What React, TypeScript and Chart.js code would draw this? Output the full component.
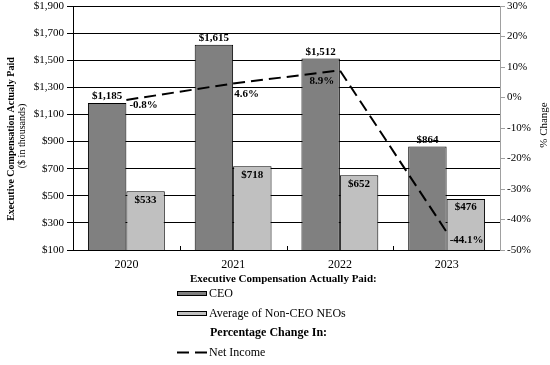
import React, { useEffect, useRef } from 'react';
import { Chart, registerables } from 'chart.js';

Chart.register(...registerables);

const years = ['2020', '2021', '2022', '2023'];
const ceoPaid = [1185, 1615, 1512, 864];
const neoPaid = [533, 718, 652, 476];
const netIncomeChange = [-0.8, 4.6, 8.9, -44.1];

const leftMin = 100;
const leftMax = 1900;
const leftStep = 200;
const rightMin = -50;
const rightMax = 30;
const rightStep = 10;

const FONT = "'Liberation Serif', 'Times New Roman', serif";
const CEO_COLOR = '#808080';
const NEO_COLOR = '#c0c0c0';

const lineLabelPlacement = [
  { align: 'left', dx: 3, dy: 5 },
  { align: 'left', dx: 1, dy: 11 },
  { align: 'center', dx: -18, dy: 11 },
  { align: 'left', dx: 3, dy: 8 },
];

const money = (v: number) => '$' + v.toLocaleString('en-US');
const pct = (v: number) => v.toFixed(1) + '%';

const labelsPlugin = {
  id: 'valueLabels',
  afterDatasetsDraw(chart: any) {
    const ctx = chart.ctx;
    ctx.save();
    ctx.fillStyle = '#000';
    ctx.font = `bold 11px ${FONT}`;
    const m0 = chart.getDatasetMeta(0);
    m0.data.forEach((bar: any, i: number) => {
      ctx.textAlign = 'center';
      ctx.textBaseline = 'bottom';
      ctx.fillText(money(ceoPaid[i]), bar.x, bar.y - 1);
    });
    const m1 = chart.getDatasetMeta(1);
    m1.data.forEach((bar: any, i: number) => {
      ctx.textAlign = 'center';
      ctx.textBaseline = 'top';
      ctx.fillText(money(neoPaid[i]), bar.x, bar.y + 3);
    });
    const m2 = chart.getDatasetMeta(2);
    m2.data.forEach((pt: any, i: number) => {
      const o = lineLabelPlacement[i];
      ctx.textAlign = o.align;
      ctx.textBaseline = 'middle';
      ctx.fillText(pct(netIncomeChange[i]), pt.x + o.dx, pt.y + o.dy);
    });
    ctx.restore();
  },
};

const decorPlugin = {
  id: 'decor',
  afterDraw(chart: any) {
    const ctx = chart.ctx;
    const area = chart.chartArea;
    ctx.save();
    // inner category tick marks
    ctx.strokeStyle = '#000';
    ctx.lineWidth = 1;
    const n = years.length;
    for (let i = 1; i < n; i++) {
      const x = Math.round(area.left + (i * (area.right - area.left)) / n) + 0.5;
      ctx.beginPath();
      ctx.moveTo(x, area.bottom);
      ctx.lineTo(x, area.bottom - 4);
      ctx.stroke();
    }
    // axis titles
    ctx.fillStyle = '#000';
    ctx.textAlign = 'center';
    ctx.textBaseline = 'middle';
    ctx.save();
    ctx.translate(11, 139);
    ctx.rotate(-Math.PI / 2);
    ctx.font = `bold 10px ${FONT}`;
    ctx.fillText('Executive Compensation Actualy Paid', 0, 0);
    ctx.restore();
    ctx.save();
    ctx.translate(22, 136);
    ctx.rotate(-Math.PI / 2);
    ctx.font = `10px ${FONT}`;
    ctx.fillText('($ in thousands)', 0, 0);
    ctx.restore();
    ctx.save();
    ctx.translate(544, 125);
    ctx.rotate(-Math.PI / 2);
    ctx.font = `11px ${FONT}`;
    ctx.fillText('% Change', 0, 0);
    ctx.restore();

    // legend
    ctx.textAlign = 'left';
    ctx.font = `bold 11px ${FONT}`;
    ctx.fillText('Executive Compensation Actually Paid:', 190, 279);
    ctx.font = `bold 12px ${FONT}`;
    ctx.fillText('Percentage Change In:', 210, 333);
    ctx.font = `12px ${FONT}`;
    ctx.fillStyle = CEO_COLOR;
    ctx.fillRect(177, 291, 30, 5);
    ctx.strokeRect(177.5, 291.5, 29, 4);
    ctx.fillStyle = NEO_COLOR;
    ctx.fillRect(177, 311, 30, 5);
    ctx.strokeRect(177.5, 311.5, 29, 4);
    ctx.fillStyle = '#000';
    ctx.fillText('CEO', 209, 294);
    ctx.fillText('Average of Non-CEO NEOs', 209, 314);
    ctx.fillText('Net Income', 209, 353);
    ctx.lineWidth = 2;
    ctx.beginPath();
    ctx.moveTo(177, 352.5);
    ctx.lineTo(189, 352.5);
    ctx.moveTo(195, 352.5);
    ctx.lineTo(207, 352.5);
    ctx.stroke();
    ctx.restore();
  },
};

export default function App() {
  const ref = useRef<HTMLCanvasElement | null>(null);
  useEffect(() => {
    document.body.style.margin = '0';
    if (!ref.current) return;
    const tickFont = { family: FONT, size: 11 };
    const chart = new Chart(ref.current, {
      type: 'bar',
      data: {
        labels: years,
        datasets: [
          {
            type: 'bar',
            label: 'CEO',
            data: ceoPaid,
            backgroundColor: CEO_COLOR,
            borderColor: '#000',
            borderWidth: 1,
            yAxisID: 'y',
            order: 1,
            categoryPercentage: 0.72,
            barPercentage: 1.0,
          },
          {
            type: 'bar',
            label: 'Average of Non-CEO NEOs',
            data: neoPaid,
            backgroundColor: NEO_COLOR,
            borderColor: '#000',
            borderWidth: 1,
            yAxisID: 'y',
            order: 2,
            categoryPercentage: 0.72,
            barPercentage: 1.0,
          },
          {
            type: 'line',
            label: 'Net Income',
            data: netIncomeChange,
            borderColor: '#000',
            borderWidth: 2,
            borderDash: [12, 6],
            pointRadius: 0,
            fill: false,
            tension: 0,
            yAxisID: 'y1',
            order: 0,
          },
        ] as any,
      },
      options: {
        responsive: false,
        animation: false,
        layout: { padding: { top: 0, left: 0, right: 0, bottom: 0 } },
        plugins: { legend: { display: false }, tooltip: { enabled: false } },
        scales: {
          x: {
            offset: true,
            grid: { display: false, drawTicks: false },
            border: { color: '#000' },
            ticks: { font: { family: FONT, size: 12 }, color: '#000', padding: 8 },
            afterFit: (s: any) => {
              s.height = 115;
            },
          },
          y: {
            position: 'left',
            min: leftMin,
            max: leftMax,
            ticks: { stepSize: leftStep, font: tickFont, color: '#000', padding: 3, callback: (v: any) => money(Number(v)) },
            grid: { color: '#000', tickLength: 6 },
            border: { color: '#000' },
            afterFit: (s: any) => {
              s.width = 73;
              s.paddingTop = 6;
              s.paddingBottom = 0;
            },
          },
          y1: {
            position: 'right',
            min: rightMin,
            max: rightMax,
            ticks: { stepSize: rightStep, font: tickFont, color: '#000', padding: 2, callback: (v: any) => v + '%' },
            grid: { drawOnChartArea: false, color: '#a0a0a0', tickLength: 5 },
            border: { color: '#a0a0a0' },
            afterFit: (s: any) => {
              s.width = 50;
              s.paddingTop = 6;
              s.paddingBottom = 0;
            },
          },
        },
      } as any,
      plugins: [labelsPlugin, decorPlugin],
    });
    return () => chart.destroy();
  }, []);
  return (
    <div style={{ width: 550, height: 365 }}>
      <canvas ref={ref} width={550} height={365} />
    </div>
  );
}
